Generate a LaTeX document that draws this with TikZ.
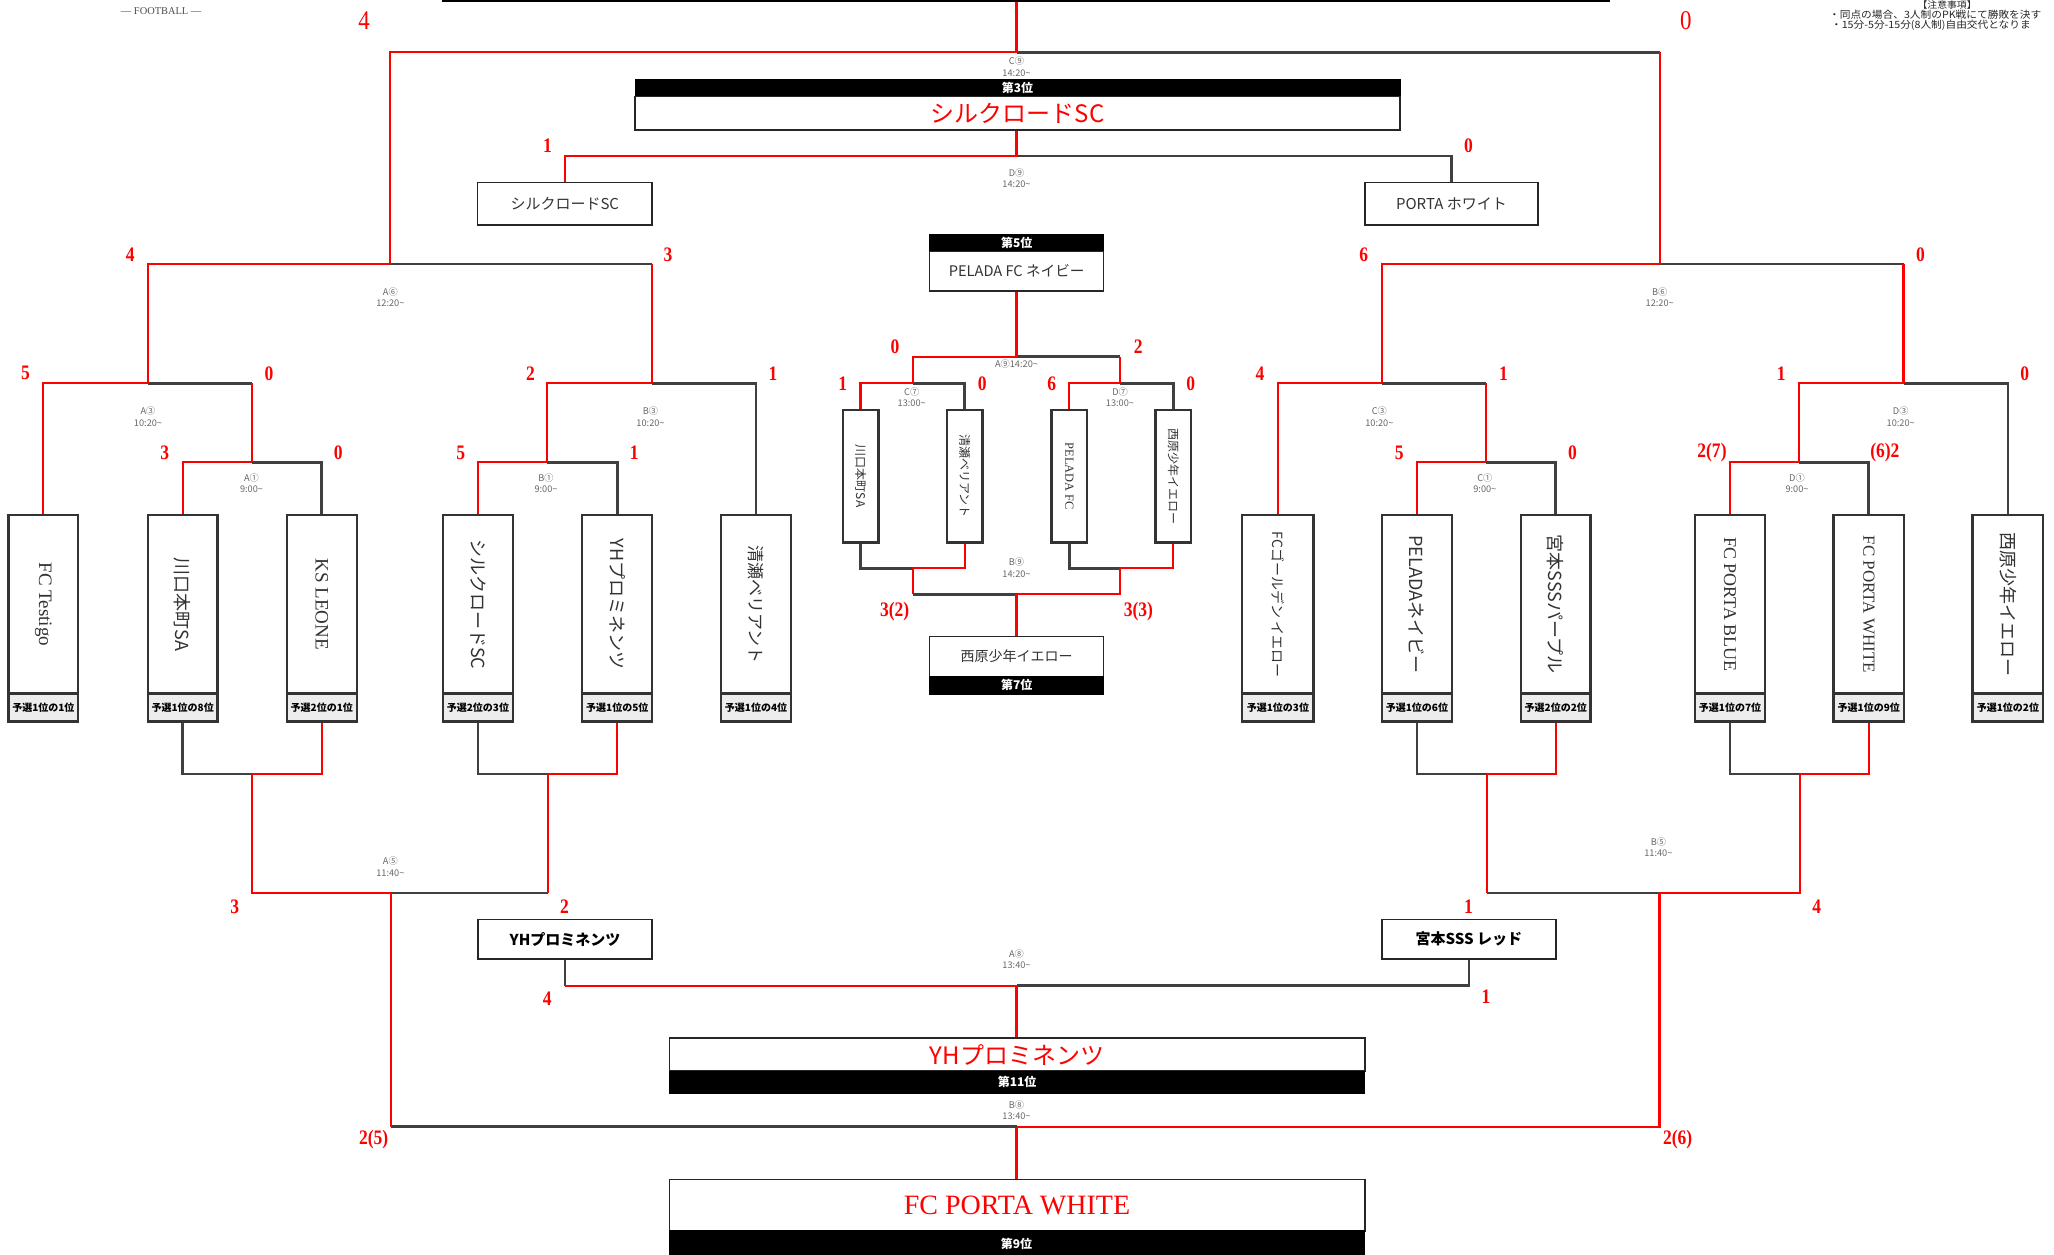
\documentclass[tikz,border=0pt]{standalone}
\usepackage{fontspec}
\usepackage{graphicx}
\setmainfont{Liberation Serif}
\newfontfamily\jp{Noto Sans CJK JP}
\newfontfamily\jpwide[FakeStretch=1.07]{Noto Sans CJK JP}
\newfontfamily\scorefont[FakeStretch=0.85]{Liberation Serif}
\newfontfamily\latn{Liberation Serif}
\newcommand{\fsz}[1]{\fontsize{#1}{#1}\selectfont}
\usetikzlibrary{fit}
\newcommand{\team}[6]{%
  \node[tbox, fit={(#2,393.3) (#3,529.3)}] (#1) {};
  \node[txt, text=black!80] (#1t) at (#1.center) {\rotatebox{-90}{#4}};
  \node[tlab, fit={(#2,529.3) (#3,550.9)}] (#5) {};
  \node[txt, font=\jp\bfseries\fsz{5}] (#5t) at (#5.center) {#6};}
\begin{document}
\begin{tikzpicture}[x=0.655pt,y=-0.655pt,
  rl/.style={draw=red,line width=1.05pt},
  dl/.style={draw=black!75,line width=1.3pt},
  txt/.style={inner sep=0pt,anchor=center},
  tbox/.style={draw=black!80,line width=1.2pt,inner sep=0pt,fill=white},
  tlab/.style={draw=black!80,line width=1.2pt,inner sep=0pt,fill=black!7},
  cbox/.style={draw=black!80,line width=1.2pt,inner sep=0pt,fill=white},
  hdr/.style={draw=black,fill=black,inner sep=0pt},
  htxt/.style={inner sep=0pt,text=white,font=\jp\bfseries\fsz{6}},
  wbox/.style={draw=black!85,line width=0.8pt,fill=white,inner sep=0pt},
  sc/.style={text=red,font=\scorefont\bfseries\fsz{10.3},inner sep=0pt},
  sct/.style={text=red,font=\scorefont\fsz{13.5},inner sep=0pt},
  mlab/.style={text=black!60,font=\jp\fontsize{4.6}{5.7}\selectfont,align=center,inner sep=0pt}
]
\useasboundingbox (0,0) rectangle (1568,958);
\clip (0,0) rectangle (1568,958);

% ---- header items
\node[text=black!70,font=\latn\fsz{5.2},inner sep=0pt] (logo) at (123,8.5) {— FOOTBALL —};
\node[text=black!85,font=\jpwide\fsz{4.6},inner sep=0pt] (nt0) at (1486.4,3.6) {【注意事項】};
\node[anchor=west,text=black!85,font=\jpwide\fsz{5},inner sep=0pt] (nt1) at (1396,11.5) {・同点の場合、3人制のPK戦にて勝敗を決す};
\node[anchor=west,text=black!85,font=\jpwide\fsz{5},inner sep=0pt] (nt2) at (1397.5,19.1) {・15分-5分-15分(8人制)自由交代となりま};

% ---- final box (cut off)
\node[draw=black,line width=1pt,inner sep=0pt,fit={(338,-40) (1228,0.8)}] (fin) {};

% ---- 3rd place
\node[hdr, fit={(484.7,60.6) (1068.8,73.8)}] (h3) {};
\node[htxt] (h3t) at (h3.center) {第3位};
\node[wbox, fit={(484.7,73.8) (1068.8,99.2)}] (p3) {};
\node[txt, text=red, font=\jp\fsz{12}] (p3t) at (p3.center) {シルクロードSC};
\node[wbox, fit={(364.4,139.2) (497.9,171.8)}] (s1) {};
\node[txt, text=black!80, font=\jp\fsz{7.5}] (s1t) at (s1.center) {シルクロードSC};
\node[wbox, fit={(1042,139.2) (1174,171.8)}] (s2) {};
\node[txt, text=black!80, font=\jp\fsz{7.5}] (s2t) at (s2.center) {PORTA ホワイト};

% ---- 5th / 7th
\node[hdr, fit={(709.7,178.9) (842.5,192.1)}] (h5) {};
\node[htxt] (h5t) at (h5.center) {第5位};
\node[wbox, fit={(709.7,192.1) (842.5,222.1)}] (p5) {};
\node[txt, text=black!80, font=\jp\fsz{7.3}] (p5t) at (p5.center) {PELADA FC ネイビー};
\node[wbox, fit={(709.7,486) (842.5,516.5)}] (p7) {};
\node[txt, text=black!80, font=\jp\fsz{7}] (p7t) at (p7.center) {西原少年イエロー};
\node[hdr, fit={(709.7,516.5) (842.5,529.8)}] (h7) {};
\node[htxt] (h7t) at (h7.center) {第7位};

\node[cbox, fit={(643.3,313) (670.5,414)}] (c1) {};
\node[txt, text=black!80] (c1t) at (c1.center) {\rotatebox{-90}{\jp\fsz{6}川口本町SA}};
\node[cbox, fit={(722.9,313) (750.1,414)}] (c2) {};
\node[txt, text=black!80] (c2t) at (c2.center) {\rotatebox{-90}{\jp\fsz{6}清瀬ベリアント}};
\node[cbox, fit={(802.8,313) (829.8,414)}] (c3) {};
\node[txt, text=black!80] (c3t) at (c3.center) {\rotatebox{-90}{\latn\fsz{6.2}PELADA FC}};
\node[cbox, fit={(882.2,313) (909.2,414)}] (c4) {};
\node[txt, text=black!80] (c4t) at (c4.center) {\rotatebox{-90}{\jp\fsz{6}西原少年イエロー}};

% ---- team boxes
\team{t1}{6.6}{59.6}{\latn\fsz{9.5}FC Testigo}{l1}{予選1位の1位}
\team{t2}{112.9}{166}{\jp\fsz{9}川口本町SA}{l2}{予選1位の8位}
\team{t3}{219}{272.3}{\latn\fsz{9.5}KS LEONE}{l3}{予選2位の1位}
\team{t4}{338.2}{391.5}{\jp\fsz{9}シルクロードSC}{l4}{予選2位の3位}
\team{t5}{444.5}{497.9}{\jp\fsz{9}YHプロミネンツ}{l5}{予選1位の5位}
\team{t6}{550.5}{603.8}{\jp\fsz{8.5}清瀬ベリアント}{l6}{予選1位の4位}
\team{t7}{948.3}{1002.8}{\jp\fsz{7}FCゴールデン イエロー}{l7}{予選1位の3位}
\team{t8}{1055.1}{1108.3}{\jp\fsz{9}PELADAネイビー}{l8}{予選1位の6位}
\team{t9}{1161}{1214.3}{\jp\fsz{9}宮本SSSパープル}{l9}{予選2位の2位}
\team{t10}{1293.9}{1347.5}{\latn\fsz{9}FC PORTA BLUE}{l10}{予選1位の7位}
\team{t11}{1399.8}{1453.4}{\latn\fsz{8.5}FC PORTA WHITE}{l11}{予選1位の9位}
\team{t12}{1505.9}{1559.8}{\jp\fsz{9}西原少年イエロー}{l12}{予選1位の2位}

% ---- lower boxes
\node[wbox, fit={(365.1,701.8) (497.6,732.3)}] (y1) {};
\node[txt, font=\jp\bfseries\fsz{7.5}] (y1t) at (y1.center) {YHプロミネンツ};
\node[wbox, fit={(1054.8,701.8) (1187.7,732.3)}] (m1) {};
\node[txt, font=\jp\bfseries\fsz{7.5}] (m1t) at (m1.center) {宮本SSS レッド};
\node[wbox, fit={(511,792.6) (1041.8,817.6)}] (p11) {};
\node[txt, text=red, font=\jp\fsz{12}] (p11t) at (p11.center) {YHプロミネンツ};
\node[hdr, fit={(511,817.6) (1041.8,834.9)}] (h11) {};
\node[htxt] (h11t) at (h11.center) {第11位};
\node[wbox, fit={(511,900.3) (1041.8,939.5)}] (p9) {};
\node[txt, text=red, font=\latn\fsz{14}] (p9t) at (p9.center) {FC PORTA WHITE};
\node[hdr, fit={(511,939.5) (1041.8,960)}] (h9) {};
\node[htxt] (h9t) at (776,949.5) {第9位};

% ---- junctions
\coordinate (FIN) at (776,40);
\coordinate (A6) at (298,201.5);
\coordinate (B6) at (1267.1,201.5);
\coordinate (A3) at (113,292.6);
\coordinate (B3) at (497.7,292.6);
\coordinate (A1) at (192.4,352.9);
\coordinate (B1) at (417.9,352.9);
\coordinate (C3) at (1055.1,292.6);
\coordinate (D3) at (1453.1,292.6);
\coordinate (C1) at (1134.4,352.9);
\coordinate (D1) at (1373.1,352.9);
\coordinate (D9) at (776,119.1);
\coordinate (A9) at (776,272.3);
\coordinate (C7) at (697,292.6);
\coordinate (D7) at (855,292.6);
\coordinate (C7b) at (697,433.9);
\coordinate (D7b) at (855,433.9);
\coordinate (B9) at (776,453.7);
\coordinate (A2) at (192.6,590.8);
\coordinate (B2) at (418.3,590.8);
\coordinate (C2) at (1134.9,590.8);
\coordinate (D2) at (1374,590.8);
\coordinate (A5) at (298.4,681.7);
\coordinate (B5) at (1266.8,681.7);
\coordinate (A8) at (776,752.4);
\coordinate (B8) at (776,860.1);

% ---- dark lines
\draw[dl] (t3.north) |- (A1);
\draw[dl] (t5.north) |- (B1);
\draw[dl] (A1 |- A3) -- (A3);
\draw[dl] (t6.north) |- (B3);
\draw[dl] (B3 |- A6) -- (A6);
\draw[dl] (t9.north) |- (C1);
\draw[dl] (t11.north) |- (D1);
\draw[dl] (C1 |- C3) -- (C3);
\draw[dl] (t12.north) |- (D3);
\draw[dl] (D3 |- B6) -- (B6);
\draw[dl] (B6 |- FIN) -- (FIN);
\draw[dl] (s2.north) |- (D9);
\draw[dl] (c2.north) |- (C7);
\draw[dl] (c4.north) |- (D7);
\draw[dl] (D7 |- A9) -- (A9);
\draw[dl] (c1.south) |- (C7b);
\draw[dl] (c3.south) |- (D7b);
\draw[dl] (C7b |- B9) -- (B9);
\draw[dl] (l2.south) |- (A2);
\draw[dl] (l4.south) |- (B2);
\draw[dl] (B2 |- A5) -- (A5);
\draw[dl] (l8.south) |- (C2);
\draw[dl] (l10.south) |- (D2);
\draw[dl] (C2 |- B5) -- (B5);
\draw[dl] (A5 |- B8) -- (B8);
\draw[dl] (y1.south) -- (y1.south |- A8);
\draw[dl] (m1.south) |- (A8);

% ---- red lines
\draw[rl] (t2.north) |- (A1);
\draw[rl] (t4.north) |- (B1);
\draw[rl] (t1.north) |- (A3);
\draw[rl] (A1) -- (A1 |- A3);
\draw[rl] (B1) |- (B3);
\draw[rl] (A3) |- (A6);
\draw[rl] (B3) -- (B3 |- A6);
\draw[rl] (t8.north) |- (C1);
\draw[rl] (t10.north) |- (D1);
\draw[rl] (t7.north) |- (C3);
\draw[rl] (C1) -- (C1 |- C3);
\draw[rl] (D1) |- (D3);
\draw[rl] (C3) |- (B6);
\draw[rl] (D3) -- (D3 |- B6);
\draw[rl] (A6) |- (FIN);
\draw[rl] (B6) -- (B6 |- FIN);
\draw[rl] (FIN) -- (FIN |- fin.south);
\draw[rl] (D9 |- p3.south) -- (D9);
\draw[rl] (s1.north) |- (D9);
\draw[rl] (A9 |- p5.south) -- (A9);
\draw[rl] (c1.north) |- (C7);
\draw[rl] (c3.north) |- (D7);
\draw[rl] (C7) |- (A9);
\draw[rl] (D7) -- (D7 |- A9);
\draw[rl] (c2.south) |- (C7b);
\draw[rl] (c4.south) |- (D7b);
\draw[rl] (C7b) -- (C7b |- B9);
\draw[rl] (D7b) |- (B9);
\draw[rl] (B9) -- (B9 |- p7.north);
\draw[rl] (l3.south) |- (A2);
\draw[rl] (l5.south) |- (B2);
\draw[rl] (A2) |- (A5);
\draw[rl] (B2) -- (B2 |- A5);
\draw[rl] (l9.south) |- (C2);
\draw[rl] (l11.south) |- (D2);
\draw[rl] (C2) -- (C2 |- B5);
\draw[rl] (D2) |- (B5);
\draw[rl] (A5) -- (A5 |- B8);
\draw[rl] (B5) |- (B8);
\draw[rl] (B8) -- (B8 |- p9.north);
\draw[rl] (y1.south |- A8) -- (A8);
\draw[rl] (A8) -- (A8 |- p11.north);

% ---- match labels
\node[mlab] (mC9) at (776,51) {C⑨\\14:20\textasciitilde};
\node[mlab] (mD9) at (776,136) {D⑨\\14:20\textasciitilde};
\node[mlab] (mA6) at (298,227) {A⑥\\12:20\textasciitilde};
\node[mlab] (mB6) at (1267,227) {B⑥\\12:20\textasciitilde};
\node[mlab] (mA3) at (113,318) {A③\\10:20\textasciitilde};
\node[mlab] (mB3) at (496.6,318) {B③\\10:20\textasciitilde};
\node[mlab] (mC3) at (1053,318) {C③\\10:20\textasciitilde};
\node[mlab] (mD3) at (1451,318) {D③\\10:20\textasciitilde};
\node[mlab] (mA1) at (192,369) {A①\\9:00\textasciitilde};
\node[mlab] (mB1) at (416.8,369) {B①\\9:00\textasciitilde};
\node[mlab] (mC1) at (1133.5,369) {C①\\9:00\textasciitilde};
\node[mlab] (mD1) at (1371.8,369) {D①\\9:00\textasciitilde};
\node[mlab] (mA9) at (776,278) {A⑨14:20\textasciitilde};
\node[mlab] (mC7) at (696,303) {C⑦\\13:00\textasciitilde};
\node[mlab] (mD7) at (855,303) {D⑦\\13:00\textasciitilde};
\node[mlab] (mB9) at (776,433.5) {B⑨\\14:20\textasciitilde};
\node[mlab] (mA5) at (298,661.7) {A⑤\\11:40\textasciitilde};
\node[mlab] (mB5) at (1266,646.5) {B⑤\\11:40\textasciitilde};
\node[mlab] (mA8) at (776,732) {A⑧\\13:40\textasciitilde};
\node[mlab] (mB8) at (776,847.3) {B⑧\\13:40\textasciitilde};

% ---- scores
\node[sct] (sc1) at (278,16) {4};
\node[sct] (sc2) at (1287,16) {0};
\node[sc] (sc3) at (418,111) {1};
\node[sc] (sc4) at (1121,111) {0};
\node[sc] (sc5) at (99.4,194.7) {4};
\node[sc] (sc6) at (510,194.7) {3};
\node[sc] (sc7) at (19.5,285) {5};
\node[sc] (sc8) at (205.3,285) {0};
\node[sc] (sc9) at (405,285) {2};
\node[sc] (sc10) at (590,285) {1};
\node[sc] (sc11) at (125.8,345.6) {3};
\node[sc] (sc12) at (258.2,345.6) {0};
\node[sc] (sc13) at (351.7,345.6) {5};
\node[sc] (sc14) at (484.1,345.6) {1};
\node[sc] (sc15) at (1041,194.7) {6};
\node[sc] (sc16) at (1466,194.7) {0};
\node[sc] (sc17) at (961.8,285) {4};
\node[sc] (sc18) at (1147.7,285) {1};
\node[sc] (sc19) at (1359.7,285) {1};
\node[sc] (sc20) at (1545.7,285) {0};
\node[sc] (sc21) at (1068.2,345.6) {5};
\node[sc] (sc22) at (1200.5,345.6) {0};
\node[sc] (sc23) at (1306.9,345.6) {2(7)};
\node[sc] (sc24) at (1438.9,345.6) {(6)2};
\node[sc] (sc25) at (683.2,264.6) {0};
\node[sc] (sc26) at (869,264.6) {2};
\node[sc] (sc27) at (643.3,292.6) {1};
\node[sc] (sc28) at (749.9,292.6) {0};
\node[sc] (sc29) at (802.8,292.6) {6};
\node[sc] (sc30) at (909,292.6) {0};
\node[sc] (sc31) at (683,467) {3(2)};
\node[sc] (sc32) at (869,467) {3(3)};
\node[sc] (sc33) at (179.2,692.1) {3};
\node[sc] (sc34) at (430.9,692.1) {2};
\node[sc] (sc35) at (1121,692.1) {1};
\node[sc] (sc36) at (1386.8,692.1) {4};
\node[sc] (sc37) at (417.7,762.1) {4};
\node[sc] (sc38) at (1134.4,760.8) {1};
\node[sc] (sc39) at (285.3,870.2) {2(5)};
\node[sc] (sc40) at (1280.7,870.2) {2(6)};
\end{tikzpicture}
\end{document}
